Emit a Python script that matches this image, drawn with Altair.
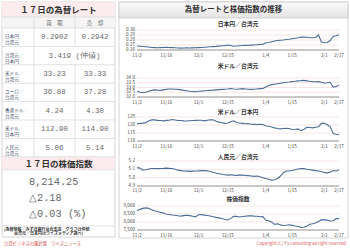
import altair as alt
import pandas as pd

FONT = "Noto Sans CJK JP"
MONO = "Liberation Mono"

# ---------------- data ----------------
dates = ["11/2", "11/3", "11/4", "11/5", "11/6", "11/9", "11/10", "11/11", "11/12", "11/13",
         "11/16", "11/17", "11/18", "11/19", "11/20", "11/23", "11/24", "11/25", "11/26", "11/27",
         "11/30", "12/1", "12/2", "12/3", "12/4", "12/7", "12/8", "12/9", "12/10", "12/11",
         "12/14", "12/15", "12/16", "12/17", "12/18", "12/21", "12/22", "12/23", "12/24", "12/25",
         "12/28", "12/29", "12/30", "12/31", "1/4", "1/5", "1/6", "1/7", "1/8", "1/11",
         "1/12", "1/13", "1/14", "1/15", "1/18", "1/19", "1/20", "1/21", "1/22", "1/25",
         "1/26", "1/27", "1/28", "1/29", "2/1", "2/2", "2/3", "2/15", "2/16", "2/17"]

jpy_twd = [0.2680, 0.2675, 0.2670, 0.2665, 0.2660, 0.2650, 0.2648, 0.2645, 0.2648, 0.2650,
           0.2652, 0.2650, 0.2648, 0.2645, 0.2640, 0.2638, 0.2640, 0.2642, 0.2640, 0.2642,
           0.2645, 0.2648, 0.2650, 0.2655, 0.2660, 0.2665, 0.2668, 0.2672, 0.2678, 0.2685,
           0.2688, 0.2700, 0.2690, 0.2675, 0.2680, 0.2685, 0.2690, 0.2692, 0.2695, 0.2698,
           0.2700, 0.2705, 0.2710, 0.2712, 0.2745, 0.2750, 0.2765, 0.2780, 0.2790, 0.2795,
           0.2800, 0.2810, 0.2815, 0.2825, 0.2835, 0.2845, 0.2860, 0.2858, 0.2855, 0.2845,
           0.2845, 0.2850, 0.2900, 0.2760, 0.2745, 0.2750, 0.2790, 0.2870, 0.2885, 0.2905]

usd_twd = [32.60, 32.50, 32.45, 32.50, 32.60, 32.70, 32.75, 32.72, 32.70, 32.75,
           32.80, 32.85, 32.85, 32.82, 32.80, 32.75, 32.70, 32.65, 32.60, 32.58,
           32.55, 32.60, 32.62, 32.65, 32.68, 32.70, 32.72, 32.75, 32.78, 32.80,
           32.82, 32.85, 32.90, 32.85, 32.82, 32.85, 32.88, 32.85, 32.82, 32.80,
           32.82, 32.85, 32.88, 32.90, 33.05, 33.20, 33.30, 33.35, 33.40, 33.45,
           33.50, 33.55, 33.58, 33.62, 33.65, 33.70, 33.72, 33.75, 33.70, 33.65,
           33.62, 33.60, 33.62, 33.55, 33.45, 33.50, 33.55, 33.05, 33.10, 33.25]

usd_jpy = [120.8, 121.0, 121.2, 121.5, 122.5, 123.2, 123.2, 122.9, 122.8, 122.6,
           122.9, 123.0, 123.4, 123.1, 122.8, 122.8, 122.6, 122.5, 122.7, 122.8,
           122.9, 123.0, 123.0, 122.6, 123.0, 123.3, 123.2, 122.3, 121.8, 121.4,
           121.0, 121.2, 122.0, 122.6, 121.6, 121.2, 121.0, 120.8, 120.9, 120.5,
           120.4, 120.3, 120.5, 120.3, 119.4, 119.2, 118.7, 118.2, 117.8, 117.6,
           117.8, 117.9, 117.8, 117.0, 117.2, 117.6, 116.5, 117.2, 118.5, 118.4,
           118.2, 118.6, 118.9, 121.0, 121.1, 120.2, 119.0, 114.6, 114.2, 113.9]

cny_twd = [5.120, 5.115, 5.090, 5.095, 5.105, 5.110, 5.110, 5.108, 5.110, 5.112,
           5.115, 5.112, 5.110, 5.100, 5.090, 5.085, 5.080, 5.078, 5.075, 5.078,
           5.080, 5.082, 5.085, 5.085, 5.082, 5.075, 5.065, 5.055, 5.048, 5.040,
           5.035, 5.030, 5.035, 5.030, 5.028, 5.030, 5.032, 5.028, 5.025, 5.020,
           5.015, 5.020, 5.010, 5.000, 4.990, 4.980, 4.970, 4.975, 4.990, 5.020,
           5.060, 5.080, 5.080, 5.085, 5.095, 5.105, 5.110, 5.108, 5.100, 5.095,
           5.090, 5.085, 5.080, 5.075, 5.060, 5.058, 5.065, 5.085, 5.080, 5.095]

taiex = [8700, 8790, 8850, 8880, 8860, 8760, 8700, 8660, 8600, 8560,
         8480, 8470, 8440, 8420, 8390, 8370, 8400, 8420, 8400, 8360,
         8320, 8450, 8460, 8430, 8410, 8380, 8330, 8290, 8260, 8220,
         8160, 8130, 8210, 8360, 8350, 8310, 8340, 8360, 8380, 8390,
         8370, 8360, 8330, 8338, 8110, 8080, 7990, 7850, 7890, 7820,
         7780, 7800, 7830, 7790, 7750, 7720, 7660, 7670, 7740, 7860,
         7890, 7940, 8030, 8145, 8131, 8117, 8063, 8080, 8212, 8214]

xtick_labels = ["11/2", "11/16", "12/1", "12/15", "1/4", "1/15", "2/1", "2/17"]

rate_labels = ["日本円／\n台湾元", "台湾元／\n日本円", "米ドル／\n台湾元", "ユーロ／\n台湾元",
               "香港ドル／\n台湾元", "米ドル／\n日本円", "人民元／\n台湾元"]
rate_buy = ["0.2902", "3.419 (仲値)", "33.23", "36.88", "4.24", "112.90", "5.06"]
rate_sell = ["0.2942", "", "33.33", "37.28", "4.30", "114.90", "5.14"]
stock_lines = ["8,214.25", "△2.18", "△0.03 (%)"]

# ---------------- layout (pixels) ----------------
W, H = 350, 248
TX0, TX1, TC1, TC2 = 2, 115, 34, 75          # table columns
T_TITLE0, T_TITLE1, T_HEAD1 = 2, 17, 28
ROW_H = 18.4
RX0, RX1, RY1 = 119, 348, 238                 # right panel box
PX0, PX1 = 137, 339                           # plot x range
YLAB_X = 135

PXS = alt.Scale(domain=[0, W], range=[0, W], nice=False, zero=False)
PYS = alt.Scale(domain=[0, H], range=[0, H], nice=False, zero=False)


def rects(df, **kw):
    return alt.Chart(df).mark_rect(**kw).encode(
        x=alt.X("x0:Q", scale=PXS, axis=None), x2="x1:Q",
        y=alt.Y("y0:Q", scale=PYS, axis=None), y2="y1:Q")


def rules(df, **kw):
    return alt.Chart(df).mark_rule(**kw).encode(
        x=alt.X("x0:Q", scale=PXS, axis=None), x2="x1:Q",
        y=alt.Y("y0:Q", scale=PYS, axis=None), y2="y1:Q")


def texts(df, **kw):
    return alt.Chart(df).mark_text(**kw).encode(
        x=alt.X("x:Q", scale=PXS, axis=None),
        y=alt.Y("y:Q", scale=PYS, axis=None), text="t:N")


n_rows = len(rate_labels)
row_tops = [T_HEAD1 + k * ROW_H for k in range(n_rows + 1)]
S_TITLE1 = row_tops[-1] + 13
NOTE_Y0 = 226
TY1 = 237

boxes = pd.DataFrame([
    dict(x0=TX0, x1=TX1, y0=T_TITLE0, y1=TY1),
    dict(x0=RX0, x1=RX1, y0=T_TITLE0, y1=RY1),
])
pink = pd.DataFrame([
    dict(x0=TX0, x1=TX1, y0=T_TITLE0, y1=T_TITLE1),
    dict(x0=TX0, x1=TX1, y0=row_tops[-1], y1=S_TITLE1),
])
head = pd.DataFrame([dict(x0=TX0, x1=TX1, y0=T_TITLE1, y1=T_HEAD1)])
rhead = pd.DataFrame([dict(x0=RX0, x1=RX1, y0=T_TITLE0, y1=18)])

hl = [T_TITLE1, T_HEAD1] + row_tops[1:] + [S_TITLE1, NOTE_Y0]
lines = [dict(x0=TX0, x1=TX1, y0=y, y1=y) for y in hl]
lines.append(dict(x0=TC1, x1=TC1, y0=T_TITLE1, y1=row_tops[-1]))
lines.append(dict(x0=TC2, x1=TC2, y0=T_TITLE1, y1=row_tops[1]))
lines.append(dict(x0=TC2, x1=TC2, y0=row_tops[2], y1=row_tops[-1]))
lines_df = pd.DataFrame(lines)

titles_df = pd.DataFrame([
    dict(x=(TX0 + TX1) / 2, y=(T_TITLE0 + T_TITLE1) / 2 + 0.5, t="１７日の為替レート"),
    dict(x=(TX0 + TX1) / 2, y=(row_tops[-1] + S_TITLE1) / 2 + 0.5, t="１７日の株価指数"),
])
head_df = pd.DataFrame([
    dict(x=(TC1 + TC2) / 2, y=(T_TITLE1 + T_HEAD1) / 2, t="買　取"),
    dict(x=(TC2 + TX1) / 2, y=(T_TITLE1 + T_HEAD1) / 2, t="売　却"),
])
lab_df = pd.DataFrame([dict(x=5, y=row_tops[k] + ROW_H / 2, t=rate_labels[k]) for k in range(n_rows)])
val_rows = []
for k in range(n_rows):
    yc = row_tops[k] + ROW_H / 2
    if rate_sell[k] == "":
        val_rows.append(dict(x=(TC1 + TX1) / 2, y=yc, t=rate_buy[k]))
    else:
        val_rows.append(dict(x=(TC1 + TC2) / 2, y=yc, t=rate_buy[k]))
        val_rows.append(dict(x=(TC2 + TX1) / 2, y=yc, t=rate_sell[k]))
val_df = pd.DataFrame(val_rows)
stock_df = pd.DataFrame([dict(x=29, y=S_TITLE1 + 12 + 16 * k, t=s) for k, s in enumerate(stock_lines)])
note_df = pd.DataFrame([
    dict(x=4, y=NOTE_Y0 + 3.5, t="(為替情報／みずほ銀行台北支店　グラフは仲値"),
    dict(x=14, y=NOTE_Y0 + 8, t="台湾元／日本円はワイズメディア調べ)"),
])
foot_l = pd.DataFrame([dict(x=4, y=244, t="台湾ビジネスの羅針盤　ワイズニュース")])
foot_r = pd.DataFrame([dict(x=346, y=244, t="Copyright (C) Y's consulting all right reserved")])
rtitle = pd.DataFrame([dict(x=(RX0 + RX1) / 2, y=10, t="為替レートと株価指数の推移")])

grad = alt.Gradient(gradient="linear",
                    stops=[alt.GradientStop(color="#fbfbfb", offset=0),
                           alt.GradientStop(color="#e3e3e3", offset=1)],
                    x1=0, x2=0, y1=0, y2=1)

frame = alt.layer(
    rects(boxes, fill="white", stroke="#c9c9c9", strokeWidth=0.8),
    rects(pink, fill="#fcecee"),
    rects(head, fill="#f5f5f5"),
    rects(rhead, fill=grad, stroke="#c9c9c9", strokeWidth=0.8),
    rules(lines_df, color="#d6d6d6", strokeWidth=0.7),
    texts(titles_df, font=FONT, fontSize=8.5, fontWeight="bold", color="#333333", baseline="middle"),
    texts(head_df, font=FONT, fontSize=5.5, color="#666666", baseline="middle"),
    texts(lab_df, font=FONT, fontSize=4.6, color="#3b4a66", align="left", baseline="middle",
          lineBreak="\n", lineHeight=6),
    texts(val_df, font=MONO, fontSize=7.5, color="#6a6a6a", baseline="middle"),
    texts(stock_df, font=MONO, fontSize=10.3, color="#666666", align="left", baseline="middle"),
    texts(note_df, font=FONT, fontSize=4, fontWeight="bold", color="#333333", align="left",
          baseline="middle"),
    texts(foot_l, font=FONT, fontSize=4.3, color="#d9534f", align="left", baseline="middle"),
    texts(foot_r, font=FONT, fontSize=4.3, color="#d9534f", align="right", baseline="middle"),
    texts(rtitle, font=FONT, fontSize=7.5, fontWeight="bold", color="#333333", baseline="middle"),
)


def panel(values, lo, hi, ticks, tick_text, top, bottom, title, title_y, xlab_y):
    xs = alt.Scale(type="point", domain=dates, range=[PX0, PX1], padding=0)
    ys = alt.Scale(domain=[lo, hi], range=[bottom, top], nice=False, zero=False)
    df = pd.DataFrame({"d": dates, "v": values})
    gdf = pd.DataFrame({"t": ticks, "lab": tick_text, "d0": dates[0], "d1": dates[-1]})
    bdf = pd.DataFrame({"t": [lo], "d0": [dates[0]], "d1": [dates[-1]]})
    xdf = pd.DataFrame({"d": xtick_labels})
    tdf = pd.DataFrame({"t": [title]})
    grid = alt.Chart(gdf).mark_rule(color="#f1d3d3", strokeWidth=0.6).encode(
        x=alt.X("d0:O", scale=xs, axis=None), x2="d1",
        y=alt.Y("t:Q", scale=ys, axis=None))
    base = alt.Chart(bdf).mark_rule(color="#9a9a9a", strokeWidth=1.1).encode(
        x=alt.X("d0:O", scale=xs, axis=None), x2="d1",
        y=alt.Y("t:Q", scale=ys, axis=None))
    line = alt.Chart(df).mark_line(color="#4a6d98", strokeWidth=1.1).encode(
        x=alt.X("d:O", scale=xs, axis=None),
        y=alt.Y("v:Q", scale=ys, axis=None))
    ylab = alt.Chart(gdf).mark_text(font=FONT, fontSize=4.6, color="#444444", align="right",
                                    baseline="middle").encode(
        x=alt.value(YLAB_X), y=alt.Y("t:Q", scale=ys, axis=None), text="lab:N")
    xlab = alt.Chart(xdf).mark_text(font=FONT, fontSize=4.6, color="#444444",
                                    baseline="middle").encode(
        x=alt.X("d:O", scale=xs, axis=None), y=alt.value(xlab_y), text="d:N")
    ttl = alt.Chart(tdf).mark_text(font=FONT, fontSize=5.8, fontWeight="bold", color="#333333",
                                   baseline="middle").encode(
        x=alt.value((PX0 + PX1) / 2), y=alt.value(title_y), text="t:N")
    return alt.layer(grid, base, line, ylab, xlab, ttl)


p1 = panel(jpy_twd, 0.26, 0.30, [0.30, 0.29, 0.28, 0.27, 0.26],
           ["0.30", "0.29", "0.28", "0.27", "0.26"], 30, 50, "日本円／台湾元", 24, 56)
p2 = panel(usd_twd, 32.0, 34.0, [34.0, 33.5, 33.0, 32.5, 32.0],
           ["34.0", "33.5", "33.0", "32.5", "32.0"], 78, 97, "米ドル／台湾元", 66, 103)
p3 = panel(usd_jpy, 110, 125, [125, 120, 115, 110],
           ["125", "120", "115", "110"], 117, 141, "米ドル／日本円", 111.5, 147)
p4 = panel(cny_twd, 4.9, 5.2, [5.2, 5.1, 5.0, 4.9],
           ["5.2", "5.1", "5.0", "4.9"], 161, 186, "人民元／台湾元", 156.5, 191)
p5 = panel(taiex, 7500, 9000, [9000, 8500, 8000, 7500],
           ["9,000", "8,500", "8,000", "7,500"], 206, 230, "株価指数", 198.5, 236)

chart = alt.layer(frame, p1, p2, p3, p4, p5).resolve_scale(
    x="independent", y="independent"
).properties(
    width=W, height=H, padding=0, background="white",
    autosize=alt.AutoSizeParams(type="none"),
).configure_view(stroke=None)

chart.save("out.html", embed_options={"renderer": "svg", "actions": False})
